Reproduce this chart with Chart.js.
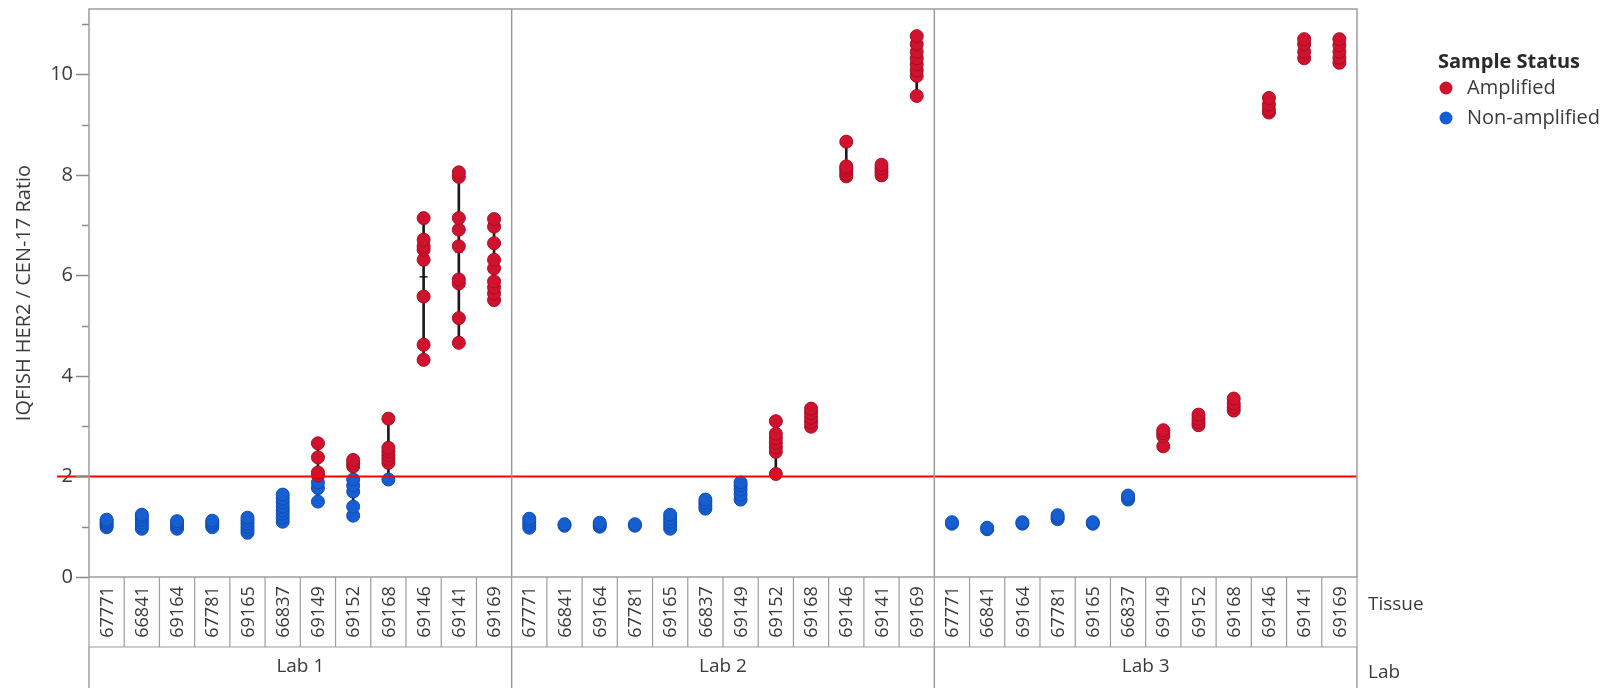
<!DOCTYPE html>
<html>
<head>
<meta charset="utf-8">
<script src="https://cdn.jsdelivr.net/npm/chart.js@4.4.1/dist/chart.umd.min.js"></script>
<style>
  html, body { margin: 0; padding: 0; background: #ffffff; }
  #wrap { width: 1604px; height: 688px; position: relative; }
</style>
</head>
<body>
<div id="wrap"><canvas id="chart" width="1604" height="688"></canvas></div>
<script>
// Tissue samples, in the order they appear within each lab panel
const tissues = ['67771', '66841', '69164', '67781', '69165', '66837',
                 '69149', '69152', '69168', '69146', '69141', '69169'];
const labs = ['Lab 1', 'Lab 2', 'Lab 3'];

// IQFISH HER2 / CEN-17 ratios per tissue (one inner list per tissue)
const lab1Amplified = [
  [], [], [], [], [], [],
  [2.02, 2.08, 2.38, 2.66],
  [2.2, 2.26, 2.33],
  [2.27, 2.35, 2.42, 2.5, 2.57, 3.15],
  [4.32, 4.62, 5.58, 6.31, 6.51, 6.58, 6.71, 7.14],
  [4.66, 5.15, 5.84, 5.92, 6.58, 6.91, 7.14, 7.96, 8.05],
  [5.51, 5.64, 5.76, 5.88, 6.14, 6.31, 6.64, 6.97, 7.12]
];
const lab1NonAmplified = [
  [0.99, 1.03, 1.07, 1.1, 1.14],
  [0.96, 1.02, 1.08, 1.14, 1.2, 1.24],
  [0.96, 1.02, 1.07, 1.11],
  [0.99, 1.04, 1.08, 1.12],
  [0.88, 0.94, 1.0, 1.06, 1.12, 1.18],
  [1.1, 1.18, 1.26, 1.33, 1.4, 1.48, 1.56, 1.64],
  [1.5, 1.77, 1.88],
  [1.22, 1.4, 1.7, 1.82, 1.94],
  [1.94],
  [], [], []
];

const lab2Amplified = [
  [], [], [], [], [], [], [],
  [2.05, 2.49, 2.58, 2.67, 2.76, 2.85, 3.1],
  [2.99, 3.08, 3.17, 3.26, 3.35],
  [7.97, 8.02, 8.08, 8.13, 8.17, 8.66],
  [7.99, 8.06, 8.13, 8.2],
  [9.57, 9.97, 10.08, 10.2, 10.32, 10.45, 10.6, 10.76]
];
const lab2NonAmplified = [
  [0.98, 1.04, 1.1, 1.16],
  [1.02, 1.05],
  [1.0, 1.04, 1.08],
  [1.02, 1.05],
  [0.96, 1.03, 1.1, 1.17, 1.24],
  [1.36, 1.42, 1.48, 1.54],
  [1.54, 1.64, 1.74, 1.82, 1.88],
  [], [], [], [], []
];

const lab3Amplified = [
  [], [], [], [], [], [],
  [2.6, 2.8, 2.86, 2.92],
  [3.02, 3.08, 3.15, 3.23],
  [3.31, 3.38, 3.45, 3.55],
  [9.24, 9.3, 9.4, 9.53],
  [10.32, 10.45, 10.6, 10.7],
  [10.23, 10.33, 10.45, 10.58, 10.7]
];
const lab3NonAmplified = [
  [1.06, 1.09],
  [0.95, 0.98],
  [1.06, 1.09],
  [1.15, 1.19, 1.23],
  [1.06, 1.09],
  [1.54, 1.58, 1.62],
  [], [], [], [], [], []
];

const yTicks = [0, 2, 4, 6, 8, 10];
const threshold = 2;
const statusNames = ['Amplified', 'Non-amplified'];

const RED = '#d0122e';
const BLUE = '#165fd2';
const FONT = '"Open Sans", "Noto Sans", sans-serif';
const TEXT = '#3a3a3a';
const FRAME = '#9c9c9c';

// Flatten the per-lab lists into chart points on a 0..35 slot axis
const ampByLab = [lab1Amplified, lab2Amplified, lab3Amplified];
const nonByLab = [lab1NonAmplified, lab2NonAmplified, lab3NonAmplified];
const amplifiedPoints = [];
const nonAmplifiedPoints = [];
const rangeBars = [];
const meanMarks = [];
labs.forEach((lab, li) => {
  tissues.forEach((t, ti) => {
    const x = li * tissues.length + ti;
    const a = ampByLab[li][ti];
    const n = nonByLab[li][ti];
    a.forEach(v => amplifiedPoints.push({ x, y: v }));
    n.forEach(v => nonAmplifiedPoints.push({ x, y: v }));
    const all = a.concat(n);
    if (all.length) {
      rangeBars.push({ x, y: [Math.min(...all), Math.max(...all)] });
      meanMarks.push({ x, y: all.reduce((s, v) => s + v, 0) / all.length });
    }
  });
});
const slotCount = tissues.length * labs.length;

function line(ctx, x1, y1, x2, y2) {
  ctx.beginPath();
  ctx.moveTo(x1, y1);
  ctx.lineTo(x2, y2);
  ctx.stroke();
}

// Threshold line drawn above the points
const thresholdLine = {
  id: 'thresholdLine',
  afterDatasetsDraw(chart) {
    const { ctx, chartArea: a, scales: { y } } = chart;
    const py = y.getPixelForValue(threshold);
    ctx.save();
    ctx.strokeStyle = '#ff0000';
    ctx.lineWidth = 2;
    line(ctx, 57, py, a.right, py);
    ctx.restore();
  }
};

// Panel frame, tissue/lab strips, y tick marks and the legend
const panelDecor = {
  id: 'panelDecor',
  afterDraw(chart) {
    const { ctx, chartArea: a, scales: { x, y } } = chart;
    const n = tissues.length;
    const stripTop = a.bottom;
    const stripBottom = a.bottom + 70;
    const labBottom = chart.height;
    ctx.save();

    // y tick marks (major every 2, minor every 1)
    ctx.strokeStyle = '#8a8a8a';
    ctx.lineWidth = 1.5;
    for (let v = 0; v <= Math.floor(y.max); v++) {
      const py = Math.round(y.getPixelForValue(v)) + 0.5;
      const len = yTicks.includes(v) ? 13 : 7;
      line(ctx, a.left - len, py, a.left, py);
    }

    // plot frame and panel dividers
    ctx.strokeStyle = FRAME;
    ctx.lineWidth = 1.5;
    ctx.strokeRect(a.left, a.top, a.right - a.left, a.bottom - a.top);
    for (let li = 1; li < labs.length; li++) {
      const px = x.getPixelForValue(li * n - 0.5);
      line(ctx, px, a.top, px, a.bottom);
    }

    // tissue strip
    ctx.lineWidth = 1.2;
    for (let i = 0; i <= slotCount; i++) {
      const px = x.getPixelForValue(i - 0.5);
      line(ctx, px, stripTop, px, stripBottom);
    }
    line(ctx, a.left, stripBottom, a.right, stripBottom);

    // lab strip
    ctx.lineWidth = 1.5;
    for (let li = 0; li <= labs.length; li++) {
      const px = x.getPixelForValue(li * n - 0.5);
      line(ctx, px, stripBottom, px, labBottom);
    }

    ctx.fillStyle = TEXT;
    ctx.font = '18px ' + FONT;
    ctx.textAlign = 'center';
    ctx.textBaseline = 'middle';
    for (let i = 0; i < slotCount; i++) {
      const px = x.getPixelForValue(i);
      ctx.save();
      ctx.translate(px, (stripTop + stripBottom) / 2);
      ctx.rotate(-Math.PI / 2);
      ctx.fillText(tissues[i % n], 0, 1);
      ctx.restore();
    }

    ctx.font = '19px ' + FONT;
    labs.forEach((lab, li) => {
      const px = x.getPixelForValue(li * n + (n - 1) / 2);
      ctx.fillText(lab, px, 667);
    });

    ctx.textAlign = 'left';
    ctx.fillText('Tissue', a.right + 11, 605);
    ctx.fillText('Lab', a.right + 11, 673);

    // legend
    ctx.font = 'bold 20px ' + FONT;
    ctx.fillStyle = '#2a2a2a';
    ctx.fillText('Sample Status', 1438, 62);
    const colors = [RED, BLUE];
    statusNames.forEach((name, i) => {
      const cy = 88 + i * 30;
      ctx.beginPath();
      ctx.arc(1446, cy, 6.5, 0, Math.PI * 2);
      ctx.fillStyle = colors[i];
      ctx.fill();
      ctx.fillStyle = TEXT;
      ctx.font = '20px ' + FONT;
      ctx.fillText(name, 1467, cy);
    });

    ctx.restore();
  }
};

new Chart(document.getElementById('chart'), {
  type: 'scatter',
  data: {
    datasets: [
      {
        label: statusNames[0],
        data: amplifiedPoints,
        backgroundColor: RED,
        borderColor: '#a80d22',
        borderWidth: 1,
        pointRadius: 6.5,
        order: 0
      },
      {
        label: statusNames[1],
        data: nonAmplifiedPoints,
        backgroundColor: BLUE,
        borderColor: '#0f4cb0',
        borderWidth: 1,
        pointRadius: 6.5,
        order: 0
      },
      {
        type: 'scatter',
        label: 'Mean',
        data: meanMarks,
        pointStyle: 'line',
        pointRadius: 4,
        borderColor: '#1a1a1a',
        borderWidth: 1.5,
        order: 1
      },
      {
        type: 'bar',
        label: 'Range',
        data: rangeBars,
        backgroundColor: '#1a1a1a',
        barThickness: 2,
        order: 2
      }
    ]
  },
  options: {
    responsive: false,
    animation: false,
    devicePixelRatio: 1,
    layout: { padding: { left: 0, right: 247, top: 9, bottom: 111 } },
    plugins: { legend: { display: false }, tooltip: { enabled: false } },
    scales: {
      x: {
        type: 'linear',
        min: -0.5,
        max: slotCount - 0.5,
        offset: false,
        grid: { offset: false },
        display: false
      },
      y: {
        type: 'linear',
        min: 0,
        max: 11.3,
        afterBuildTicks(s) { s.ticks = yTicks.map(v => ({ value: v })); },
        afterFit(s) { s.width = 89; s.paddingTop = 0; s.paddingBottom = 0; },
        grid: { display: false, drawTicks: false },
        border: { display: false },
        ticks: { font: { size: 20, family: FONT }, color: TEXT, padding: 16 },
        title: {
          display: true,
          text: 'IQFISH HER2 / CEN-17 Ratio',
          font: { size: 20, family: FONT },
          color: TEXT,
          padding: { top: 12, bottom: 0 }
        }
      }
    }
  },
  plugins: [thresholdLine, panelDecor]
});
</script>
</body>
</html>
